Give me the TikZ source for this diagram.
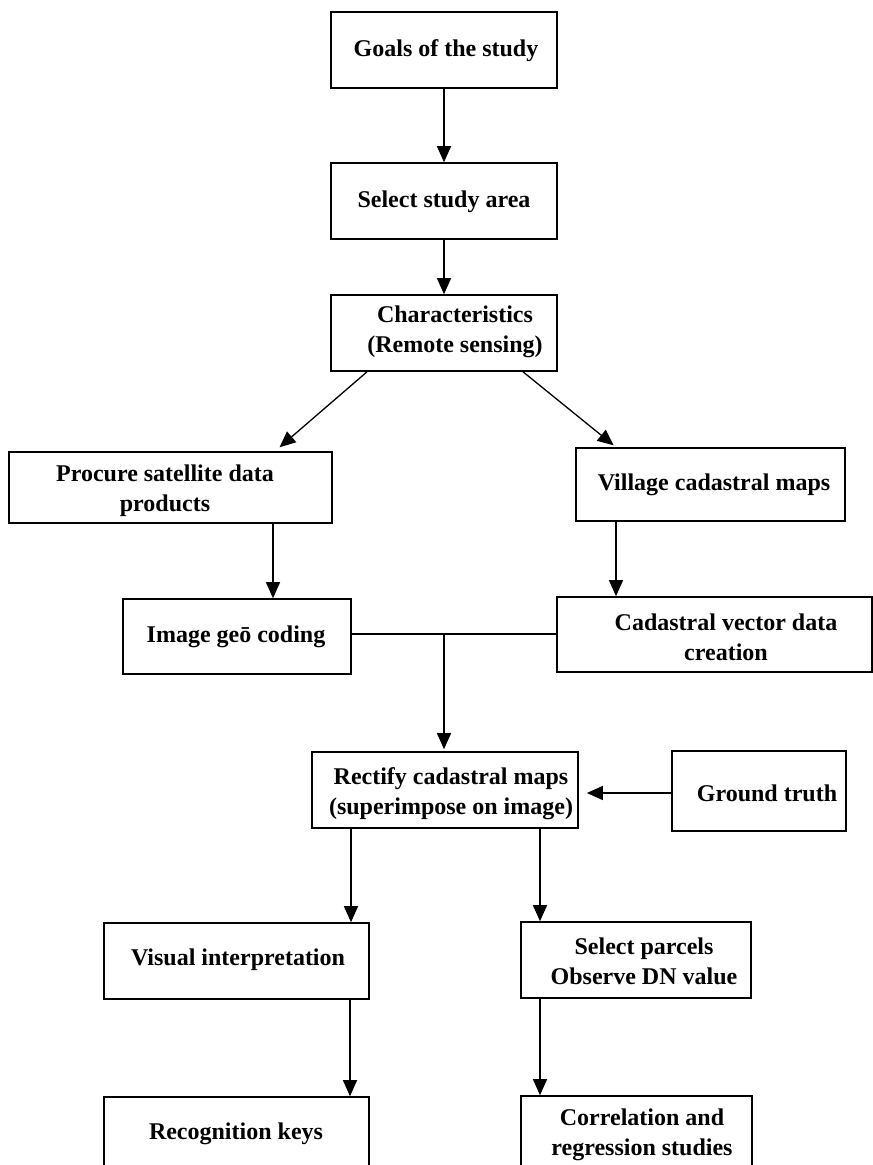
\documentclass[tikz,border=0pt]{standalone}
\usepackage{fontspec}
\setmainfont{Liberation Serif}
\usetikzlibrary{arrows.meta,calc}
\begin{document}
\begin{tikzpicture}[x=1pt,y=-1pt,
  box/.style={draw,line width=1.6pt,rectangle,inner sep=0pt},
  lbl/.style={font=\fontsize{24}{30}\selectfont\bfseries,align=center,inner sep=0pt},
  arr/.style={line width=1.3pt,-{Triangle[length=16pt,width=14pt]}},
  link/.style={line width=1.3pt}]
\useasboundingbox (0,0) rectangle (873,1165);
\clip (0,0) rectangle (873,1165);

% boxes
\node[box,minimum width=226,minimum height=76] (goals)   at (444,50)      {};
\node[box,minimum width=226,minimum height=76] (select)  at (444,201)     {};
\node[box,minimum width=226,minimum height=76] (charac)  at (444,333)     {};
\node[box,minimum width=323,minimum height=71] (procure) at (170.5,487.5) {};
\node[box,minimum width=269,minimum height=73] (village) at (710.5,484.5) {};
\node[box,minimum width=228,minimum height=75] (geo)     at (237,636.5)   {};
\node[box,minimum width=315,minimum height=75] (cadas)   at (714.5,634.5) {};
\node[box,minimum width=266,minimum height=76] (rectify) at (445,790)     {};
\node[box,minimum width=174,minimum height=80] (ground)  at (759,791)     {};
\node[box,minimum width=265,minimum height=76] (visual)  at (236.5,961)   {};
\node[box,minimum width=230,minimum height=76] (parcels) at (636,960)     {};
\node[box,minimum width=265,minimum height=78] (recog)   at (236.5,1136)  {};
\node[box,minimum width=231,minimum height=79] (correl)  at (636.5,1135.5){};

% box texts
\node[lbl] (t-goals)   at (446,51)  {Goals of the study};
\node[lbl] (t-select)  at (444,202) {Select study area};
\node[lbl] (t-charac)  at (455,332) {Characteristics\\(Remote sensing)};
\node[lbl] (t-procure) at (165,491) {Procure satellite data\\products};
\node[lbl] (t-village) at (714,485) {Village cadastral maps};
\node[lbl] (t-geo)     at (236,637) {Image ge\={o} coding};
\node[lbl] (t-cadas)   at (726,637) {Cadastral vector data\\creation};
\node[lbl] (t-rectify) at (451,794) {Rectify cadastral maps\\(superimpose on image)};
\node[lbl] (t-ground)  at (767,793) {Ground truth};
\node[lbl] (t-visual)  at (238,960) {Visual interpretation};
\node[lbl] (t-parcels) at (644,961) {Select parcels\\Observe DN value};
\node[lbl] (t-recog)   at (236,1134){Recognition keys};
\node[lbl] (t-correl)  at (642,1135){Correlation and\\regression studies};

% connectors
\draw[arr] (goals.south) -- (select.north);
\draw[arr] (select.south) -- (charac.north);
\draw[arr,shorten >=6pt] (charac.south -| 367,0) -- (procure.north -| 275,0);
\draw[arr,shorten >=3pt] (charac.south -| 523,0) -- (village.north -| 616,0);
\draw[arr] (procure.south -| 273,0) -- (geo.north -| 273,0);
\draw[arr] (village.south -| 616,0) -- (cadas.north -| 616,0);
\coordinate (merge) at (444,634);
\draw[link] (geo.east |- merge) -- (cadas.west |- merge);
\draw[arr,shorten >=2pt] (merge) -- (rectify.north -| merge);
\draw[arr,shorten >=8pt] (ground.west |- 0,793) -- (rectify.east |- 0,793);
\draw[arr] (rectify.south -| 351,0) -- (visual.north -| 351,0);
\draw[arr] (rectify.south -| 540,0) -- (parcels.north -| 540,0);
\draw[arr] (visual.south -| 350,0) -- (recog.north -| 350,0);
\draw[arr] (parcels.south -| 540,0) -- (correl.north -| 540,0);
\end{tikzpicture}
\end{document}
